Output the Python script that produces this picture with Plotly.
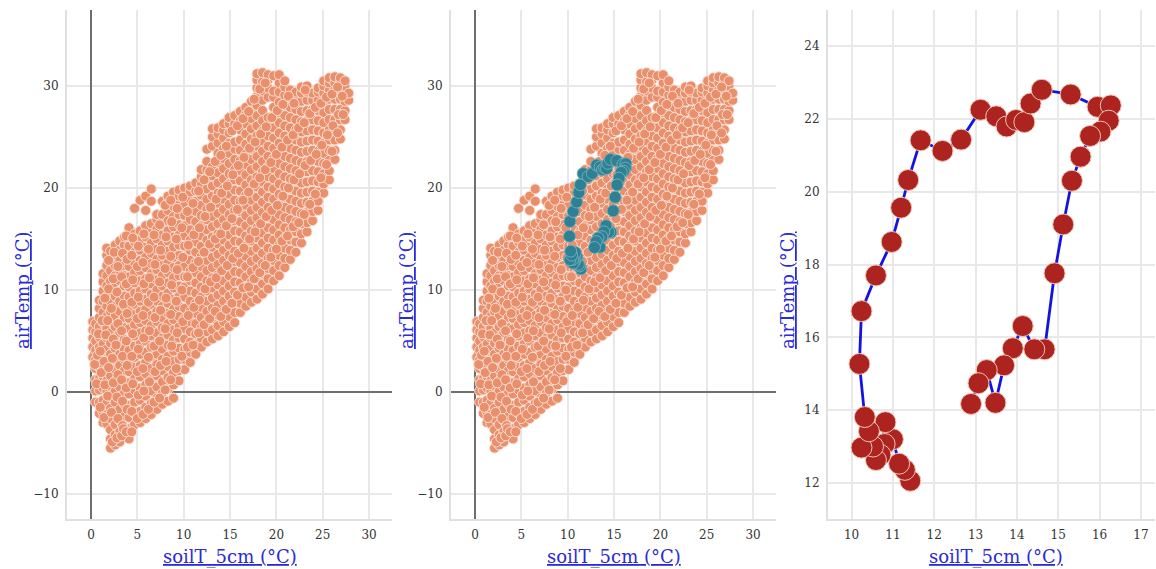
import plotly.graph_objects as go

# Highlighted period (soil temperature, air temperature)
soil_period = [11.42,11.29,11.15,11.0,10.8,10.82,10.7,10.59,10.52,10.24,10.42,10.32,10.19,10.24,10.59,10.97,11.2,11.37,11.67,12.2,12.65,13.12,13.5,13.75,13.98,14.18,14.33,14.6,15.3,15.95,16.27,16.22,16.02,15.77,15.54,15.33,15.12,14.91,14.67,14.42,14.14,13.9,13.69,13.48,13.27,13.07,12.89]
air_period = [12.06,12.36,12.53,13.2,13.07,13.67,12.77,12.63,13.0,12.97,13.42,13.81,15.27,16.72,17.7,18.62,19.56,20.32,21.41,21.12,21.43,22.25,22.07,21.79,21.97,21.91,22.42,22.8,22.67,22.33,22.37,21.95,21.65,21.53,20.96,20.3,19.1,17.76,15.67,15.67,16.31,15.7,15.23,14.2,15.1,14.74,14.17]

soil_columns = [0.2,0.5,0.9,1.3,1.7,2.1,2.6,3.1,3.6,4.1,4.7,5.3,5.9,6.5,7.1,7.7,8.3,8.9,9.5,10.1,10.7,11.3,11.9,12.5,13.1,13.7,14.3,14.9,15.5,16.1,16.7,17.3,17.9,18.5,19.1,19.7,20.3,20.9,21.5,22.1,22.7,23.3,23.9,24.5,25.1,25.7,26.3,26.9,27.4,27.8]
air_columns = [
[3.4,4.4,5.3,6.1,6.9],
[-1.0,0.1,1.2,2.3,3.2,4.1,5.0,5.9,6.7],
[-2.1,-1.0,0.2,1.3,2.4,3.5,4.4,5.4,6.4,7.3,8.2,9.0],
[-3.0,-2.0,-0.8,0.4,1.5,2.5,3.6,4.7,5.7,6.8,7.8,8.9,9.9,10.8,11.6],
[-3.1,-2.2,-1.1,0.1,1.1,2.1,3.2,4.2,5.3,6.3,7.4,8.4,9.4,10.4,11.4,12.4,13.4,14.1],
[-5.5,-4.6,-3.7,-2.6,-1.6,-0.5,0.6,1.6,2.7,3.7,4.8,5.8,6.9,7.9,8.9,9.9,10.9,11.9,12.9,13.8],
[-5.2,-4.2,-3.2,-2.1,-1.0,0.1,1.1,2.2,3.2,4.3,5.3,6.4,7.4,8.4,9.4,10.4,11.4,12.4,13.4,14.4],
[-4.9,-3.9,-2.8,-1.7,-0.6,0.5,1.6,2.6,3.7,4.7,5.8,6.8,7.9,8.9,9.9,10.9,11.9,12.9,13.9,14.8],
[-2.4,-1.2,-0.1,1.0,2.1,3.2,4.2,5.2,6.3,7.3,8.4,9.4,10.4,11.4,12.4,13.4,14.4,15.2],
[-4.6,-3.6,-2.5,-1.3,-0.2,0.9,2.0,3.0,4.1,5.1,6.2,7.2,8.2,9.3,10.3,11.3,12.3,13.3,14.3,15.3,16.1],
[-3.2,-2.1,-1.0,0.2,1.3,2.4,3.4,4.5,5.5,6.6,7.6,8.6,9.7,10.7,11.7,12.7,13.7,14.7,15.5,18.0],
[-3.0,-1.9,-0.8,0.4,1.5,2.6,3.7,4.7,5.8,6.8,7.9,8.9,9.9,10.9,11.9,12.9,13.9,14.9,15.8,18.8],
[-2.6,-1.5,-0.4,0.7,1.8,2.9,3.9,5.0,6.0,7.0,8.1,9.1,10.1,11.1,12.2,13.2,14.2,15.2,16.3,17.8,19.2],
[-2.2,-1.1,0.1,1.2,2.3,3.4,4.4,5.5,6.5,7.5,8.6,9.6,10.6,11.6,12.6,13.6,14.6,15.6,16.5,18.7,19.9],
[-1.7,-0.6,0.5,1.6,2.7,3.7,4.8,5.8,6.9,7.9,8.9,10.0,11.0,12.0,13.0,14.0,15.0,16.0,16.9,17.4],
[-1.2,-0.1,1.0,2.1,3.2,4.2,5.3,6.3,7.3,8.4,9.4,10.4,11.4,12.4,13.4,14.4,15.4,16.4,17.4,18.7],
[-0.9,0.3,1.4,2.5,3.5,4.6,5.6,6.7,7.7,8.7,9.7,10.7,11.7,12.7,13.8,14.8,15.8,16.8,17.8,18.6,19.2],
[-0.6,0.7,1.9,3.0,4.0,5.1,6.1,7.1,8.1,9.1,10.2,11.2,12.2,13.2,14.2,15.2,16.2,17.2,18.2,19.0,19.6],
[1.1,2.1,3.2,4.3,5.3,6.4,7.4,8.4,9.4,10.4,11.4,12.4,13.4,14.4,15.4,16.4,17.4,18.4,19.2,19.8],
[2.2,3.2,4.2,5.2,6.2,7.2,8.2,9.3,10.3,11.3,12.3,13.3,14.3,15.3,16.3,17.3,18.3,19.3,20.0],
[2.9,3.9,4.9,5.9,6.9,7.9,8.9,9.9,10.9,11.9,12.9,13.9,14.9,15.9,16.9,17.9,18.9,19.6,20.2],
[3.7,4.7,5.7,6.7,7.7,8.7,9.7,10.7,11.7,12.7,13.7,14.7,15.7,16.7,17.7,18.7,19.7,20.5],
[4.4,5.3,6.3,7.3,8.3,9.3,10.3,11.3,12.3,13.3,14.3,15.3,16.3,17.3,18.3,19.3,20.3,21.1,21.8],
[4.9,5.9,6.9,7.9,8.9,9.9,10.9,11.9,12.9,13.9,14.9,15.9,16.9,17.9,18.9,19.9,20.9,21.8,22.6,23.8],
[5.2,6.1,7.2,8.2,9.2,10.2,11.2,12.2,13.2,14.2,15.2,16.2,17.2,18.2,19.2,20.2,21.2,22.1,24.1,25.0,25.8],
[5.5,6.5,7.5,8.5,9.5,10.5,11.5,12.5,13.5,14.5,15.5,16.5,17.5,18.5,19.5,20.5,21.5,22.5,23.4,24.4,25.3,25.9],
[5.9,6.9,7.9,8.9,9.9,10.9,11.9,12.9,13.9,14.9,15.9,16.9,17.9,18.9,19.9,20.9,21.9,22.9,23.9,24.9,25.7,26.3],
[6.4,7.4,8.4,9.4,10.4,11.4,12.4,13.4,14.4,15.4,16.4,17.4,18.4,19.4,20.4,21.4,22.4,23.4,24.4,25.4,26.3,26.9],
[6.8,7.8,8.8,9.8,10.8,11.8,12.8,13.8,14.8,15.8,16.8,17.8,18.8,19.8,20.8,21.8,22.8,23.8,24.5,26.3,27.1],
[7.8,8.7,9.7,10.7,11.7,12.7,13.7,14.7,15.7,16.7,17.7,18.7,19.7,20.7,21.7,22.7,23.7,24.7,25.7,26.6,27.5],
[8.4,9.3,10.3,11.3,12.3,13.3,14.3,15.3,16.3,17.3,18.3,19.3,20.3,21.3,22.3,23.3,24.3,25.3,26.3,27.2,27.9],
[8.8,9.8,10.8,11.8,12.8,13.8,14.8,15.8,16.8,17.8,18.8,19.8,20.8,21.8,22.8,23.8,24.8,25.8,26.8,27.7,28.5],
[9.1,10.1,11.1,12.1,13.1,14.1,15.1,16.1,17.1,18.1,19.1,20.1,21.1,22.1,23.1,24.1,25.1,26.1,27.1,28.1,29.0,29.8,30.6,31.2],
[9.6,10.6,11.6,12.6,13.6,14.6,15.6,16.6,17.6,18.6,19.6,20.6,21.6,22.6,23.6,24.6,25.6,26.6,27.6,28.6,29.5,30.4,31.3],
[10.1,11.1,12.1,13.1,14.1,15.1,16.1,17.1,18.1,19.1,20.1,21.1,22.1,23.1,24.1,25.1,26.1,26.9,28.9,29.8,30.6,31.1],
[10.9,11.9,12.9,13.9,14.9,15.9,16.9,17.9,18.9,19.9,20.9,21.9,22.9,23.9,24.9,25.9,26.9,27.9,28.9,29.5,31.0],
[11.4,12.4,13.4,14.4,15.4,16.4,17.4,18.4,19.4,20.4,21.4,22.4,23.4,24.4,25.4,26.4,27.4,28.4,29.4,30.3,31.1],
[12.2,13.1,14.1,15.1,16.1,17.1,18.1,19.1,20.1,21.1,22.1,23.1,24.1,25.1,26.1,27.1,28.1,29.1,29.9,30.5],
[13.0,13.9,14.9,15.9,16.9,17.9,18.9,19.9,20.9,21.9,22.9,23.9,24.9,25.9,26.9,27.9,28.9,29.6],
[13.7,14.7,15.7,16.7,17.7,18.7,19.7,20.7,21.7,22.7,23.7,24.7,25.7,26.7,27.7,28.7,29.4],
[14.6,15.5,16.5,17.5,18.5,19.5,20.5,21.5,22.5,23.5,24.5,25.5,26.5,27.5,28.5,29.3,29.9],
[15.7,16.6,17.6,18.6,19.6,20.6,21.6,22.6,23.6,24.6,25.6,26.6,27.6,28.6,29.4,30.0],
[16.8,17.7,18.7,19.7,20.7,21.7,22.7,23.7,24.7,25.7,26.7,27.7,28.6,29.3],
[17.8,18.7,19.6,20.6,21.6,22.6,23.6,24.6,25.6,26.6,27.6,28.6,29.4,29.8],
[19.5,20.4,21.4,22.4,23.4,24.4,25.4,26.4,27.4,28.4,29.3,30.0,30.5],
[20.8,21.7,22.7,23.7,24.7,25.7,26.7,27.7,28.7,29.6,30.3,30.8],
[22.8,23.7,24.7,25.7,26.7,27.7,28.7,29.6,30.3,30.9],
[24.8,25.7,26.7,27.7,28.7,29.6,30.3,30.8],
[26.7,27.6,28.5,29.3,30.0,30.5],
[28.6,29.3],
]

# Further observations in between the columns above
soil_extra = [0.4,0.6,0.7,0.8,1.0,1.1,1.0,1.2,1.4,1.5,1.4,1.6,1.5,1.8,1.9,1.8,1.9,1.9,2.3,2.2,2.4,2.3,2.4,2.2,2.4,2.5,2.8,2.9,2.8,2.9,2.7,2.9,2.8,2.9,3.3,3.4,3.5,3.4,3.3,3.4,3.3,3.5,3.3,3.4,3.8,3.9,3.8,3.9,3.8,3.9,3.8,3.9,3.8,4.4,4.4,4.5,4.4,4.5,4.4,4.5,4.4,4.5,5.0,5.1,5.0,5.1,5.0,5.1,5.0,5.1,5.6,5.7,5.6,5.7,5.6,5.7,5.6,5.7,6.2,6.3,6.2,6.3,6.2,6.3,6.2,6.8,6.9,6.8,6.9,6.8,6.9,6.8,7.4,7.5,7.4,7.5,7.4,7.5,7.4,8.0,8.1,8.0,8.1,8.0,8.1,8.0,8.6,8.7,8.6,8.7,8.6,8.7,8.6,9.2,9.3,9.2,9.3,9.2,9.3,9.8,9.9,9.8,9.9,9.8,9.9,10.4,10.5,10.4,10.5,10.4,11.0,11.1,11.0,11.1,11.0,11.6,11.7,11.6,11.7,11.6,12.2,12.3,12.2,12.3,12.2,12.8,12.9,12.8,12.9,12.8,13.4,13.5,13.4,13.5,13.4,14.0,14.1,14.0,14.1,14.0,14.6,14.7,14.6,14.7,14.6,15.2,15.3,15.2,15.3,15.2,15.8,15.9,15.8,15.9,15.8,16.4,16.5,16.4,16.5,16.4,17.0,17.1,17.0,17.1,17.0,17.6,17.7,17.6,17.7,17.6,18.2,18.3,18.2,18.3,18.2,18.8,18.9,18.8,18.9,18.8,19.4,19.5,19.4,19.5,20.0,20.1,20.0,20.1,20.6,20.7,20.6,20.7,21.2,21.3,21.2,21.3,21.8,21.9,21.8,21.9,22.4,22.5,22.4,23.0,23.1,23.0,23.1,23.6,23.7,23.6,24.2,24.3,24.2,24.8,24.9,24.8,25.4,25.5,25.4,26.0,26.1,26.0,26.6,26.7,26.6,27.2,27.1]
air_extra = [2.7,0.8,3.6,5.7,-1.5,1.9,4.0,7.0,-2.5,0.7,3.0,5.6,9.2,-0.4,2.4,7.0,10.1,12.9,-4.9,-2.0,0.9,3.3,5.2,8.2,11.1,13.7,-4.5,-2.6,-0.5,1.7,4.6,6.7,9.8,12.3,-4.3,-3.3,-3.6,-0.9,1.2,3.5,6.0,8.6,11.3,13.6,-3.9,-1.7,0.4,2.6,5.0,7.7,10.6,13.0,15.3,-3.9,-1.9,0.8,3.5,5.7,8.8,11.0,13.4,15.1,-2.6,-0.3,2.0,4.2,7.2,9.3,12.3,14.3,-2.2,0.1,2.3,5.3,7.5,10.6,12.7,15.5,-1.7,1.0,3.4,6.0,8.8,11.2,14.0,-1.0,2.0,4.5,7.3,9.3,12.5,15.4,-0.6,2.6,5.0,8.0,10.8,13.9,16.4,0.2,3.0,6.2,9.2,12.1,15.2,18.3,1.2,4.5,7.6,10.5,13.3,16.7,18.8,2.3,5.8,8.9,12.0,15.0,18.0,3.5,6.9,10.0,13.2,16.1,19.1,4.4,7.5,11.3,14.4,17.7,4.6,8.3,12.2,15.4,18.5,5.8,9.0,12.8,16.1,19.7,6.6,10.1,13.7,17.2,20.8,7.2,10.8,14.5,18.1,21.6,7.9,11.2,15.0,18.9,22.6,7.4,11.9,15.5,19.5,23.2,8.1,12.4,16.3,20.2,24.1,8.7,13.1,17.0,21.3,25.6,9.5,13.6,17.9,22.2,26.1,10.2,14.1,18.8,23.0,26.8,10.3,15.0,19.6,23.9,27.5,11.1,15.7,20.4,24.5,28.7,11.7,16.5,21.0,25.3,29.7,12.4,17.2,21.8,26.0,30.3,13.2,17.8,22.5,26.9,14.0,18.3,23.3,27.6,14.8,19.2,24.0,28.2,15.3,20.0,24.7,29.0,16.2,20.8,25.2,28.3,16.6,21.4,25.9,17.4,22.2,26.4,29.6,18.4,22.7,27.3,19.4,23.3,27.9,21.0,24.2,28.3,22.3,25.2,28.9,23.6,26.1,29.2,25.4,27.2,29.9,27.2,29.0]

x_ticks_all = [0, 5, 10, 15, 20, 25, 30]
y_ticks_all = [-10, 0, 10, 20, 30]
x_ticks_period = [10, 11, 12, 13, 14, 15, 16, 17]
y_ticks_period = [12, 14, 16, 18, 20, 22, 24]
x_title = "soilT_5cm (°C)"
y_title = "airTemp (°C)"

soil_all = [s for s, col in zip(soil_columns, air_columns) for _ in col] + soil_extra
air_all = [a for col in air_columns for a in col] + air_extra

W, H = 1156, 569
FONT = "DejaVu Serif"
BLUE = "#2A2AD8"
SALMON = dict(size=10, color="#E98F6C", line=dict(color="#F9E0D5", width=1))
TEAL = dict(size=12, color="#2E8095", line=dict(color="#6FAEB8", width=1))
RED = dict(size=21, color="#AC2320", line=dict(color="#F0C4B4", width=1))

fig = go.Figure()
fig.add_trace(go.Scatter(x=soil_all, y=air_all, mode="markers", marker=SALMON, xaxis="x", yaxis="y"))
fig.add_trace(go.Scatter(x=soil_all, y=air_all, mode="markers", marker=SALMON, xaxis="x2", yaxis="y2"))
fig.add_trace(go.Scatter(x=soil_period, y=air_period, mode="markers", marker=TEAL, xaxis="x2", yaxis="y2"))
fig.add_trace(go.Scatter(x=soil_period, y=air_period, mode="lines+markers", marker=RED,
                         line=dict(color="#1414DC", width=2.8), xaxis="x3", yaxis="y3"))

ydom = [1 - 519 / H, 1 - 10 / H]
common = dict(showgrid=True, gridcolor="#E8E8E8", gridwidth=2, showline=True, linecolor="#E0E0E0", linewidth=2,
              ticks="outside", ticklen=4, tickcolor="rgba(0,0,0,0)", tickfont=dict(family=FONT, size=12, color="#333333"))
zero = dict(zeroline=True, zerolinecolor="#6E6E6E", zerolinewidth=2)
nozero = dict(zeroline=False)

fig.update_layout(
    width=W, height=H, autosize=False, margin=dict(l=0, r=0, t=0, b=0),
    paper_bgcolor="white", plot_bgcolor="white", showlegend=False,
    xaxis=dict(domain=[67 / W, 392 / W], range=[-2.59, 32.47], tickvals=x_ticks_all, anchor="y", **common, **zero),
    yaxis=dict(domain=ydom, range=[-12.45, 37.45], tickvals=y_ticks_all, anchor="x", **common, **zero),
    xaxis2=dict(domain=[451 / W, 776 / W], range=[-2.59, 32.47], tickvals=x_ticks_all, anchor="y2", **common, **zero),
    yaxis2=dict(domain=ydom, range=[-12.45, 37.45], tickvals=y_ticks_all, anchor="x2", **common, **zero),
    xaxis3=dict(domain=[828 / W, 1155 / W], range=[9.43, 17.34], tickvals=x_ticks_period, anchor="y3", **common, **nozero),
    yaxis3=dict(domain=ydom, range=[11.01, 24.99], tickvals=y_ticks_period, anchor="x3", **common, **nozero),
)

def title(text, px, py, angle=0):
    fig.add_annotation(text=f"<u>{text}</u>", x=px / W, y=1 - py / H, xref="paper", yref="paper",
                       showarrow=False, textangle=angle, xanchor="center", yanchor="middle",
                       font=dict(family=FONT, size=18, color=BLUE))

for px in (230, 614, 996):
    title(x_title, px, 557)
for px in (22, 406, 787):
    title(y_title, px, 291, -90)

fig.write_html("out.html", config={"displayModeBar": False}, post_script="document.body.style.margin='0';")
